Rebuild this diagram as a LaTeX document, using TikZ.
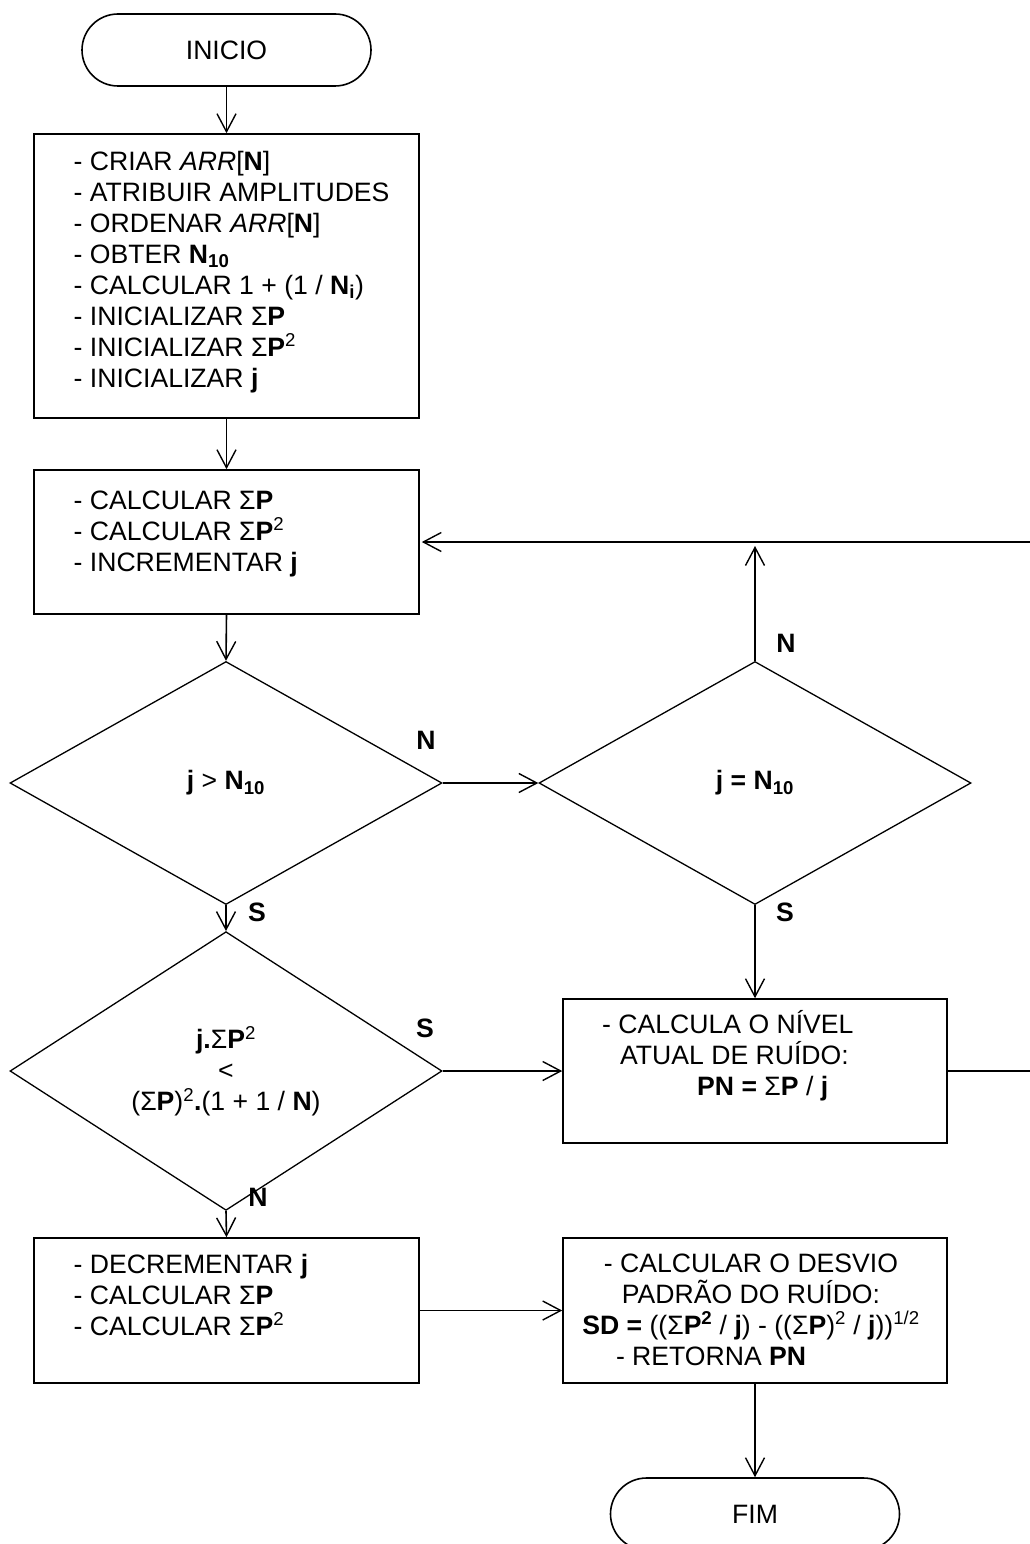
\documentclass[tikz,border=0pt]{standalone}
\usepackage{fontspec}
\setmainfont{Liberation Sans}
\usetikzlibrary{shapes.geometric,arrows.meta}
\begin{document}
\begin{tikzpicture}[x=1pt,y=-1pt,
  every node/.style={font=\fontsize{26.6}{31}\selectfont},
  boxshape/.style={draw, rectangle, line width=1.6pt, inner sep=0pt},
  term/.style={draw, rectangle, line width=1.6pt, rounded corners=36pt, minimum width=289pt, minimum height=72pt, inner sep=0pt},
  dec/.style={draw, diamond, line width=1.3pt, minimum width=432pt, minimum height=243pt, inner sep=0pt, align=center},
  txt/.style={inner sep=0pt, align=left, anchor=base west},
  lbl/.style={inner sep=0pt, font=\fontsize{26.6}{31}\selectfont\bfseries},
  arr/.style={-{Straight Barb[length=18pt,width=19pt,line width=1.4pt]}, line width=1.6pt}]
\useasboundingbox (0,0) rectangle (1029,1544);

% terminators
\node[term] (start) at (226.5,50) {INICIO};
\node[term] (end) at (755,1514) {FIM};

% process boxes (multi-line texts are placed by the baseline of their last line)
\node[boxshape, minimum width=385pt, minimum height=284pt] (b1) at (226.5,276) {};
\node[txt] (t1) at (73.5,387) {- CRIAR \textit{ARR}[\textbf{N}]\\
- ATRIBUIR AMPLITUDES\\
- ORDENAR \textit{ARR}[\textbf{N}]\\
- OBTER \textbf{N\textsubscript{10}}\\
- CALCULAR 1 + (1 / \textbf{N\textsubscript{i}})\\
- INICIALIZAR Σ\textbf{P}\\
- INICIALIZAR Σ\textbf{P}\textsuperscript{2}\\
- INICIALIZAR \textbf{j}};

\node[boxshape, minimum width=385pt, minimum height=144pt] (b2) at (226.5,542) {};
\node[txt] (t2) at (73.5,571) {- CALCULAR Σ\textbf{P}\\
- CALCULAR Σ\textbf{P}\textsuperscript{2}\\
- INCREMENTAR \textbf{j}};

\node[boxshape, minimum width=384pt, minimum height=144pt] (pn) at (755,1071) {};
\node[txt] (tpn) at (602,1095) {- CALCULA O NÍVEL\\
\hspace*{18pt}ATUAL DE RUÍDO:\\
\hspace*{95pt}\textbf{PN =} Σ\textbf{P} / \textbf{j}};

\node[boxshape, minimum width=385pt, minimum height=145pt] (b4) at (226.5,1310.5) {};
\node[txt] (t4) at (73.5,1335) {- DECREMENTAR \textbf{j}\\
- CALCULAR Σ\textbf{P}\\
- CALCULAR Σ\textbf{P}\textsuperscript{2}};

\node[boxshape, minimum width=384pt, minimum height=145pt] (sd) at (755,1310.5) {};
\node[inner sep=0pt, align=center, anchor=base] (tsd) at (751,1365) {- CALCULAR O DESVIO\\
PADRÃO DO RUÍDO:\\
\textbf{SD =} ((Σ\textbf{P\textsuperscript{2}} / \textbf{j}) - ((Σ\textbf{P})\textsuperscript{2} / \textbf{j}))\textsuperscript{1/2}\\
\makebox[270pt][l]{- RETORNA \textbf{PN}}};

% decisions
\node[dec] (d1) at (226,783) {\textbf{j} > \textbf{N\textsubscript{10}}};
\node[dec] (d2) at (755,783) {\textbf{j = N\textsubscript{10}}};
\node[dec, minimum height=239pt] (d3) at (226,1071) {\textbf{j.}Σ\textbf{P}\textsuperscript{2}\\
<\\
(Σ\textbf{P})\textsuperscript{2}\textbf{.}(1 + 1 / \textbf{N})};

% connectors
\draw[arr] (start.south) -- (b1.north);
\draw[arr] (b1.south) -- (b2.north);
\draw[arr] (b2.south) -- (d1.north);
\draw[arr] (d1.east) -- (d2.west);
\draw[arr] (d1.south) -- (d3.north);
\draw[arr] (d2.south) -- (pn.north);
\draw[arr] (d3.east) -- (pn.west);
\draw[arr] (d3.south) -- (b4.north);
\draw[arr] (b4.east) -- (sd.west);
\draw[arr] (sd.south) -- (end.north);
\coordinate (loopR) at (1033,1071);
\draw[arr, shorten >=2pt] (pn.east) -- (loopR) |- (b2.east);
\coordinate (jn) at (d2.north |- b2.east);
\draw[arr, shorten >=4pt] (d2.north) -- (jn);

% labels
\node[lbl] (lN1) at (426,740) {N};
\node[lbl] (lN2) at (786,643) {N};
\node[lbl] (lS1) at (257,912) {S};
\node[lbl] (lS2) at (785,912) {S};
\node[lbl] (lS3) at (425,1028) {S};
\node[lbl] (lN3) at (258,1197) {N};
\end{tikzpicture}
\end{document}
